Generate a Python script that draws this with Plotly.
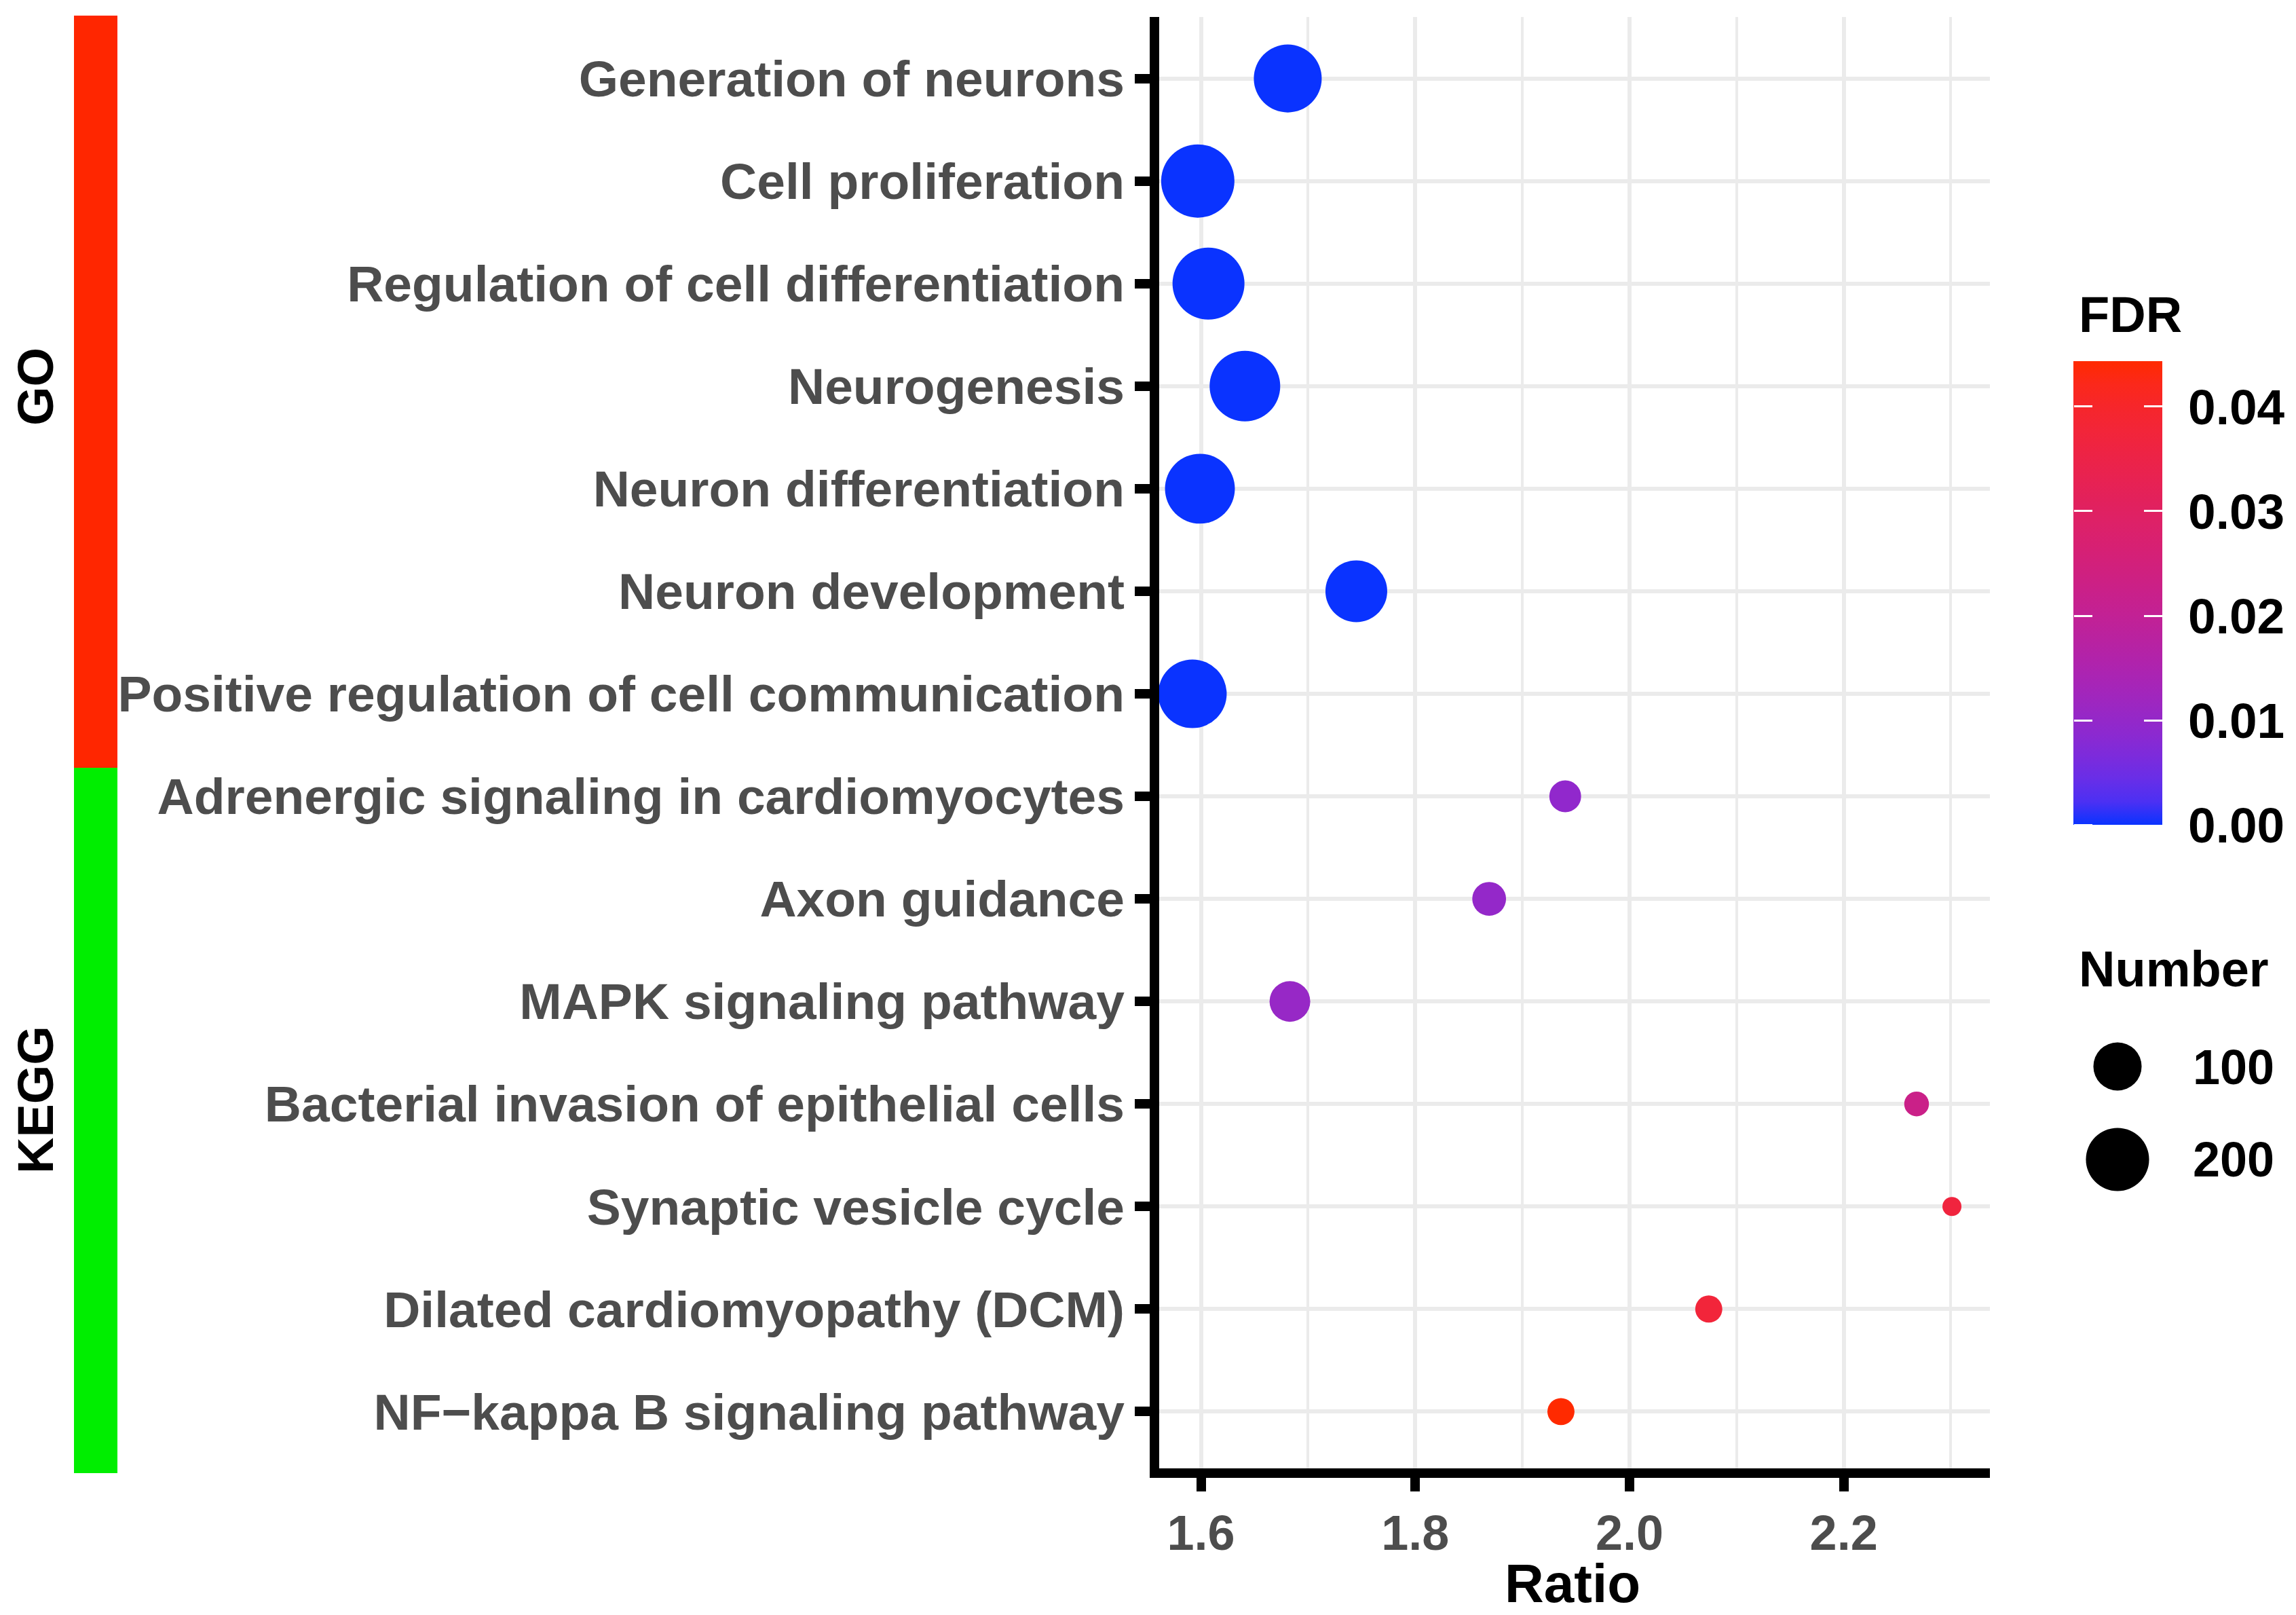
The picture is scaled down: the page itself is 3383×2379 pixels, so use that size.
import numpy as np
import plotly.graph_objects as go

# ---------------- data ----------------
terms = [
    "Generation of neurons",
    "Cell proliferation",
    "Regulation of cell differentiation",
    "Neurogenesis",
    "Neuron differentiation",
    "Neuron development",
    "Positive regulation of cell communication",
    "Adrenergic signaling in cardiomyocytes",
    "Axon guidance",
    "MAPK signaling pathway",
    "Bacterial invasion of epithelial cells",
    "Synaptic vesicle cycle",
    "Dilated cardiomyopathy (DCM)",
    "NF\u2212kappa B signaling pathway",
]
ratio = [1.681, 1.597, 1.607, 1.641, 1.599, 1.745, 1.592,
         1.940, 1.869, 1.683, 2.268, 2.301, 2.074, 1.936]
number = [240, 291, 278, 265, 258, 189, 246,
          37, 42, 65, 25, 22, 28, 28]
fdr = [1.0e-9, 2.0e-10, 5.0e-10, 3.0e-10, 4.0e-10, 1.0e-8, 6.0e-10,
       0.0095, 0.0100, 0.0105, 0.0225, 0.0368, 0.0376, 0.04435]
group_names = ["GO", "KEGG"]
group_sizes = [7, 7]

x_ticks = [1.6, 1.8, 2.0, 2.2]
fdr_ticks = [0.00, 0.01, 0.02, 0.03, 0.04]
size_breaks = [100, 200]

# ---------------- styling / geometry ----------------
W, H = 3383, 2379
PL, PR, PT, PB = 1701, 2932, 25, 2170   # panel edges (px)
LW = 14                                  # axis line width
FONT = "Liberation Sans, Arial, Helvetica, sans-serif"
GRID = "#EBEBEB"
LOW, HIGH = "#0A33FF", "#FF2A00"


def _hex(h):
    return np.array([int(h[i:i + 2], 16) / 255 for i in (1, 3, 5)])


_M = np.array([[0.4124, 0.3576, 0.1805], [0.2126, 0.7152, 0.0722], [0.0193, 0.1192, 0.9505]])
_Mi = np.linalg.inv(_M)
_WP = np.array([0.95047, 1.0, 1.08883])
_d = 6 / 29


def _f(t):
    return np.where(t > _d ** 3, np.cbrt(t), t / (3 * _d ** 2) + 4 / 29)


def _finv(t):
    return np.where(t > _d, t ** 3, 3 * _d ** 2 * (t - 4 / 29))


def to_lab(h):
    c = _hex(h)
    lin = np.where(c <= 0.04045, c / 12.92, ((c + 0.055) / 1.055) ** 2.4)
    xyz = _M @ lin / _WP
    fx, fy, fz = _f(xyz)
    return np.array([116 * fy - 16, 500 * (fx - fy), 200 * (fy - fz)])


def from_lab(lab):
    L, a, b = lab
    fy = (L + 16) / 116
    xyz = _finv(np.array([fy + a / 500, fy, fy - b / 200])) * _WP
    lin = np.clip(_Mi @ xyz, 0, 1)
    c = np.where(lin <= 0.0031308, 12.92 * lin, 1.055 * lin ** (1 / 2.4) - 0.055)
    c = np.clip(c, 0, 1)
    return "rgb(%d,%d,%d)" % tuple(np.round(c * 255).astype(int))


la, lb = to_lab(LOW), to_lab(HIGH)
colorscale = [[t, from_lab(la + (lb - la) * t)] for t in np.linspace(0, 1, 21)]

n_lo, n_hi = min(number), max(number)


def size_px(n):
    n = np.asarray(n, dtype=float)
    return 16 * (1 + 5 * np.sqrt((n - n_lo) / (n_hi - n_lo))) + 12


# axis limits with ggplot-like expansion
span = max(ratio) - min(ratio)
x_lo, x_hi = min(ratio) - 0.05 * span, max(ratio) + 0.05 * span
ppu_x = (PR - PL) / (x_hi - x_lo)
x_range = [x_lo + (LW / 2) / ppu_x, x_hi]
x_domain = [(PL + LW / 2) / W, PR / W]

y_lo, y_hi = -0.6, len(terms) - 1 + 0.6
ppu_y = (PB - PT) / (y_hi - y_lo)
y_range = [y_lo + (LW / 2) / ppu_y, y_hi]
y_domain = [1 - (PB - LW / 2) / H, 1 - PT / H]

# colour bar geometry
CB_X, CB_TOP, CB_LEN, CB_THICK = 3056, 532, 683, 130
tick_font_cb = dict(family=FONT, size=73, color="black", weight="bold")


def colorbar(**kw):
    base = dict(thicknessmode="pixels", lenmode="pixels", len=CB_LEN,
                xanchor="left", y=1 - CB_TOP / H, yanchor="top",
                xpad=0, ypad=0, outlinewidth=0,
                tickvals=fdr_ticks, ticktext=["%.2f" % v for v in fdr_ticks],
                tickfont=tick_font_cb)
    base.update(kw)
    return base


fig = go.Figure()

# main dots + colour bar with the labels
fig.add_trace(go.Scatter(
    x=ratio, y=terms, mode="markers",
    marker=dict(
        size=size_px(number), color=fdr, colorscale=colorscale,
        cmin=min(fdr), cmax=max(fdr), line=dict(width=0), opacity=1,
        showscale=True,
        colorbar=colorbar(thickness=CB_THICK, x=CB_X / W,
                          ticks="outside", ticklen=24, tickwidth=1,
                          tickcolor="rgba(0,0,0,0)"),
    ),
    cliponaxis=False, hoverinfo="skip", showlegend=False,
))

# white tick marks on the right inner edge of the colour bar
fig.add_trace(go.Scatter(
    x=[None], y=[None], mode="markers", xaxis="x2", yaxis="y2",
    marker=dict(color=[min(fdr)], colorscale=colorscale, cmin=min(fdr), cmax=max(fdr),
                showscale=True,
                colorbar=colorbar(thickness=CB_THICK, x=CB_X / W, ticks="inside",
                                  ticklen=27, tickwidth=3, tickcolor="white",
                                  showticklabels=False)),
    hoverinfo="skip", showlegend=False,
))

# white tick marks on the left inner edge of the colour bar
fig.add_trace(go.Scatter(
    x=[None], y=[None], mode="markers", xaxis="x2", yaxis="y2",
    marker=dict(color=[min(fdr)], colorscale=colorscale, cmin=min(fdr), cmax=max(fdr),
                showscale=True,
                colorbar=colorbar(thickness=1, x=(CB_X - 1) / W, ticks="outside",
                                  ticklen=27, tickwidth=3, tickcolor="white",
                                  showticklabels=False)),
    hoverinfo="skip", showlegend=False,
))

# size legend
fig.add_trace(go.Scatter(
    x=[0] * len(size_breaks), y=list(range(len(size_breaks) - 1, -1, -1)),
    mode="markers", xaxis="x2", yaxis="y2",
    marker=dict(size=size_px(size_breaks), color="black", opacity=1, line=dict(width=0)),
    cliponaxis=False, hoverinfo="skip", showlegend=False,
))

tickfont = dict(family=FONT, size=75, color="#4D4D4D", weight="bold")

fig.update_layout(
    width=W, height=H, margin=dict(l=0, r=0, t=0, b=0, pad=0),
    paper_bgcolor="white", plot_bgcolor="white", showlegend=False,
    font=dict(family=FONT),
    xaxis=dict(
        domain=x_domain, range=x_range, anchor="y",
        tickmode="array", tickvals=x_ticks, ticktext=["%.1f" % v for v in x_ticks],
        showline=True, linewidth=LW, linecolor="black",
        ticks="outside", ticklen=20, tickwidth=14, tickcolor="black",
        tickfont=dict(family=FONT, size=72, color="#4D4D4D", weight="bold"),
        showgrid=True, gridcolor=GRID, gridwidth=6,
        minor=dict(dtick=0.1, tick0=1.6, showgrid=True, gridcolor=GRID, gridwidth=4, ticks=""),
        zeroline=False, automargin=False, fixedrange=True,
    ),
    yaxis=dict(
        domain=y_domain, range=y_range, anchor="x", type="category",
        categoryorder="array", categoryarray=list(reversed(terms)),
        showline=True, linewidth=LW, linecolor="black",
        ticks="outside", ticklen=22, tickwidth=14, tickcolor="black",
        tickfont=tickfont,
        showgrid=True, gridcolor=GRID, gridwidth=6,
        zeroline=False, automargin=False, fixedrange=True,
    ),
    xaxis2=dict(domain=[3040 / W, 3200 / W], range=[-1, 1], anchor="y2",
                visible=False, fixedrange=True),
    yaxis2=dict(domain=[1 - 1780 / H, 1 - 1500 / H], range=[-0.526, 1.518], anchor="x2",
                visible=False, fixedrange=True),
)

# group bars on the left
bar_x0, bar_x1 = 109 / W, 173 / W
edges = [23, 1131, 2170]
group_colors = ["#FF2600", "#00EE00"]
group_label_y = [570, 1620]
for i, g in enumerate(group_names):
    fig.add_shape(type="rect", xref="paper", yref="paper",
                  x0=bar_x0, x1=bar_x1, y0=1 - edges[i] / H, y1=1 - edges[i + 1] / H,
                  fillcolor=group_colors[i], line=dict(width=0), layer="below")
    fig.add_annotation(text=g, xref="paper", yref="paper", x=52 / W, y=1 - group_label_y[i] / H,
                       textangle=-90, showarrow=False, xanchor="center", yanchor="middle",
                       font=dict(family=FONT, size=74, color="black", weight="bold"))

# axis title (anchored to the bottom edge of the figure)
fig.add_annotation(text="Ratio", xref="paper", yref="paper", x=((PL + PR) / 2) / W, y=0,
                   showarrow=False, xanchor="center", yanchor="bottom",
                   font=dict(family=FONT, size=80, color="black", weight="bold"))

# legend titles and labels
fig.add_annotation(text="FDR", xref="paper", yref="paper", x=3061 / W, y=1 - 463 / H,
                   showarrow=False, xanchor="left", yanchor="middle",
                   font=dict(family=FONT, size=74, color="black", weight="bold"))
fig.add_annotation(text="Number", xref="paper", yref="paper", x=3061 / W, y=1 - 1427 / H,
                   showarrow=False, xanchor="left", yanchor="middle",
                   font=dict(family=FONT, size=74, color="black", weight="bold"))
for v, yc in zip(size_breaks, [1572, 1708]):
    fig.add_annotation(text=str(v), xref="paper", yref="paper", x=3229 / W, y=1 - yc / H,
                       showarrow=False, xanchor="left", yanchor="middle",
                       font=dict(family=FONT, size=72, color="black", weight="bold"))

fig.write_html(
    "out.html",
    config={"displayModeBar": False},
    post_script="document.body.style.margin='0';document.body.style.overflow='hidden';",
)
